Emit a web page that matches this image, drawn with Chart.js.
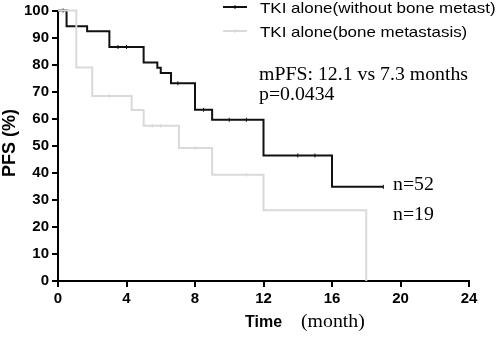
<!DOCTYPE html>
<html>
<head>
<meta charset="utf-8">
<script src="https://cdn.jsdelivr.net/npm/chart.js@4"></script>
<style>
  html, body { margin: 0; padding: 0; background: #fff; }
  #c { display: block; }
</style>
</head>
<body>
<canvas id="c" width="500" height="340"></canvas>
<script>
// ---- Data ----
const seriesNames = ["TKI alone(without bone metast)", "TKI alone(bone metastasis)"];
const blackTimes = [0, 0.5, 1.7, 3.0, 5.0, 5.8, 6.0, 6.6, 8.0, 9.0, 12.0, 16.0, 19.0];
const blackSurv  = [100, 94.2, 92.3, 86.5, 80.8, 78.8, 76.9, 73.1, 63.3, 59.6, 46.4, 34.8, 34.8];
const blackCensor = [0.3, 3.5, 4.0, 7.0, 8.5, 10.0, 11.0, 14.0, 15.0, 19.0];
const grayTimes = [0, 1.07, 2.0, 4.3, 5.0, 7.06, 9.0, 12.0, 18.0];
const graySurv  = [100, 78.9, 68.4, 63.2, 57.4, 49.2, 39.3, 26.2, 0];
const grayCensor = [3.0, 5.5, 6.0, 8.0, 11.0];
const xTicks = [0, 4, 8, 12, 16, 20, 24];
const yTicks = [0, 10, 20, 30, 40, 50, 60, 70, 80, 90, 100];
const annotationLines = ["mPFS: 12.1 vs 7.3 months", "p=0.0434"];
const nLabels = ["n=52", "n=19"];
const xTitle = "Time";
const xUnit = "(month)";
const yTitle = "PFS (%)";

const BLACK = '#111111';
const GRAY = '#d9d9d9';
const SANS = '"Liberation Sans", Arial, Helvetica, sans-serif';
const SERIF = '"Liberation Serif", "Times New Roman", serif';

function pts(times, vals) { return times.map((t, i) => ({x: t, y: vals[i]})); }
function survAt(times, vals, t) {
  let v = vals[0];
  for (let i = 0; i < times.length; i++) { if (times[i] <= t) v = vals[i]; }
  return v;
}
function censorPts(c, times, vals) { return c.map(t => ({x: t, y: survAt(times, vals, t)})); }

const textPlugin = {
  id: 'texts',
  afterDraw(chart) {
    const ctx = chart.ctx;
    const drawText = (txt, x, y, font, sx, align, base) => {
      ctx.save();
      ctx.font = font;
      ctx.fillStyle = '#000';
      ctx.textAlign = align || 'left';
      ctx.textBaseline = base || 'alphabetic';
      ctx.translate(x, y);
      ctx.scale(sx, 1);
      ctx.fillText(txt, 0, 0);
      ctx.restore();
    };
    // legend
    const leg = [{c: BLACK, y: 7, ty: 13}, {c: GRAY, y: 31, ty: 37}];
    leg.forEach((l, i) => {
      ctx.save();
      ctx.strokeStyle = l.c; ctx.lineWidth = 2;
      ctx.beginPath(); ctx.moveTo(223, l.y); ctx.lineTo(247, l.y); ctx.stroke();
      ctx.lineWidth = 1;
      ctx.beginPath(); ctx.moveTo(235, l.y - 2); ctx.lineTo(235, l.y + 2); ctx.stroke();
      ctx.restore();
      drawText(seriesNames[i], 260, l.ty, '15px ' + SANS, 1.13);
    });
    // annotation
    drawText(annotationLines[0], 259, 80, '18px ' + SERIF, 1.1);
    drawText(annotationLines[1], 259, 100, '18px ' + SERIF, 1.1);
    drawText(nLabels[0], 393, 190, '18px ' + SERIF, 1.1);
    drawText(nLabels[1], 393, 220, '18px ' + SERIF, 1.1);
    // axis titles
    drawText(xTitle, 245, 327, 'bold 16px ' + SANS, 1.0);
    drawText(xUnit, 301, 327, '18px ' + SERIF, 1.1);
    ctx.save();
    ctx.translate(10, 143);
    ctx.rotate(-Math.PI / 2);
    ctx.font = 'bold 18px ' + SANS;
    ctx.fillStyle = '#000';
    ctx.textAlign = 'center';
    ctx.textBaseline = 'middle';
    ctx.fillText(yTitle, 0, 0);
    ctx.restore();
  }
};

new Chart(document.getElementById('c'), {
  type: 'line',
  data: {
    datasets: [
      { label: seriesNames[1], data: pts(grayTimes, graySurv), stepped: 'before',
        borderColor: GRAY, borderWidth: 2, pointRadius: 0, fill: false, order: 0, clip: false },
      { label: seriesNames[1] + ' censored', data: censorPts(grayCensor, grayTimes, graySurv),
        showLine: false, pointStyle: 'line', rotation: 90, pointRadius: 2,
        pointBorderColor: GRAY, pointBorderWidth: 1, order: 0, clip: false },
      { label: seriesNames[0], data: pts(blackTimes, blackSurv), stepped: 'before',
        borderColor: BLACK, borderWidth: 2, pointRadius: 0, fill: false, order: 1, clip: false },
      { label: seriesNames[0] + ' censored', data: censorPts(blackCensor, blackTimes, blackSurv),
        showLine: false, pointStyle: 'line', rotation: 90, pointRadius: 2,
        pointBorderColor: BLACK, pointBorderWidth: 1, order: 1, clip: false }
    ]
  },
  options: {
    responsive: false,
    animation: false,
    devicePixelRatio: 1,
    layout: { padding: { left: 0, right: 31, top: 7, bottom: 0 } },
    plugins: { legend: { display: false }, tooltip: { enabled: false } },
    scales: {
      x: {
        type: 'linear', min: 0, max: 24,
        afterBuildTicks(s) { s.ticks = xTicks.map(v => ({value: v})); },
        afterFit(s) { s.height = 59; },
        ticks: { color: '#000', padding: 4, font: { family: SANS, size: 15, weight: 'bold', lineHeight: 1 } },
        grid: { drawOnChartArea: false, drawTicks: true, tickLength: 6, color: '#000', lineWidth: 2 },
        border: { color: '#000', width: 2 }
      },
      y: {
        type: 'linear', min: 0, max: 100,
        afterBuildTicks(s) { s.ticks = yTicks.map(v => ({value: v})); },
        afterFit(s) { s.width = 58; },
        ticks: { color: '#000', padding: 3, font: { family: SANS, size: 15, weight: 'bold', lineHeight: 1 } },
        grid: { drawOnChartArea: false, drawTicks: true, tickLength: 6, color: '#000', lineWidth: 2 },
        border: { color: '#000', width: 2 }
      }
    }
  },
  plugins: [textPlugin]
});
</script>
</body>
</html>
